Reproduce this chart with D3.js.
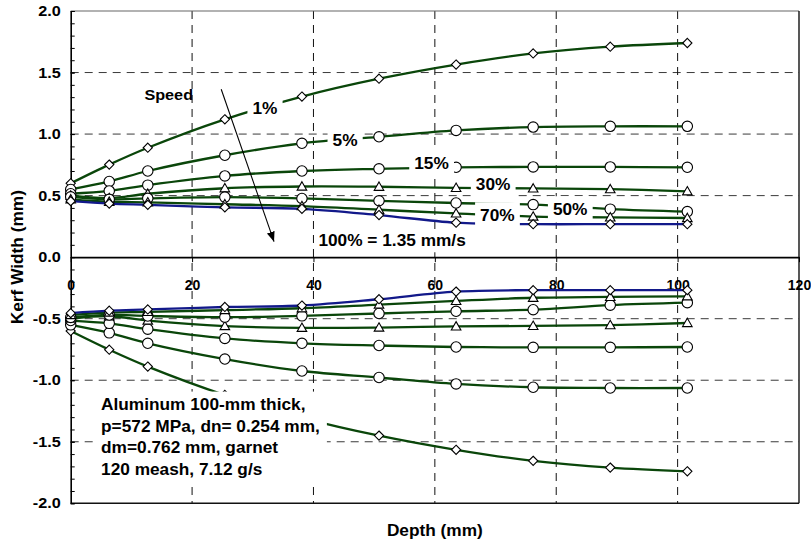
<!DOCTYPE html>
<html>
<head>
<meta charset="utf-8">
<script src="https://cdn.jsdelivr.net/npm/d3@7"></script>
<style>
  html, body { margin: 0; padding: 0; background: #fff; }
  svg { display: block; font-family: "Liberation Sans", Arial, Helvetica, sans-serif; font-weight: bold; }
</style>
</head>
<body>
<svg id="chart" width="811" height="544"></svg>
<script>
// Depth along the cut (mm) where kerf half-width was measured
const depth = [0, 6.35, 12.7, 25.4, 38.1, 50.8, 63.5, 76.2, 88.9, 101.6];

// Kerf half-width (mm) for each traverse speed (% of 1.35 mm/s)
const kerf1   = [0.600, 0.752, 0.889, 1.120, 1.305, 1.450, 1.565, 1.655, 1.710, 1.740];
const kerf5   = [0.550, 0.615, 0.700, 0.828, 0.925, 0.978, 1.030, 1.057, 1.063, 1.063];
const kerf15  = [0.515, 0.538, 0.585, 0.660, 0.700, 0.718, 0.730, 0.733, 0.733, 0.730];
const kerf30  = [0.500, 0.480, 0.515, 0.560, 0.574, 0.572, 0.563, 0.558, 0.552, 0.535];
const kerf50  = [0.490, 0.470, 0.478, 0.488, 0.477, 0.458, 0.440, 0.427, 0.390, 0.370];
const kerf70  = [0.470, 0.450, 0.445, 0.430, 0.415, 0.385, 0.355, 0.330, 0.323, 0.318];
const kerf100 = [0.455, 0.435, 0.425, 0.405, 0.393, 0.342, 0.280, 0.268, 0.268, 0.268];

const speedNames  = ["1%", "5%", "15%", "30%", "50%", "70%", "100%"];
const speedValues = [kerf1, kerf5, kerf15, kerf30, kerf50, kerf70, kerf100];

// Axis ticks
const xTicks = [0, 20, 40, 60, 80, 100, 120];
const yTicks = [-2.0, -1.5, -1.0, -0.5, 0.0, 0.5, 1.0, 1.5, 2.0];
const yMinorTicks = d3.range(-20, 21).map(i => i / 10);
const xGrid = [20, 40, 60, 80, 100];
const yGrid = [-1.5, -1.0, -0.5, 0.5, 1.0, 1.5];

// Text
const xTitle = "Depth (mm)";
const yTitle = "Kerf Width (mm)";
const curveLabels = ["1%", "5%", "15%", "30%", "70%", "50%"];
const speedTitle = "Speed";
const speedRef = "100% = 1.35 mm/s";
const noteLines = ["Aluminum 100-mm thick,", "p=572 MPa, dn= 0.254 mm,", "dm=0.762 mm, garnet", "120 meash, 7.12 g/s"];

// ---------- styling / layout ----------
const W = 811, H = 544;
const margin = { top: 11, right: 12, bottom: 40.7, left: 70.7 };
const GREEN = "#0a460a", BLUE = "#12198a";
const markerOf = { "1%": "diamond", "5%": "circle", "15%": "circle", "30%": "triangle",
                   "50%": "circle", "70%": "triangle", "100%": "diamond" };
const colorOf = name => name === "100%" ? BLUE : GREEN;
// label anchor points (depth, width) for in-plot annotations
const curveLabelAt = [[32.0, 1.212], [45.2, 0.952], [59.45, 0.765], [69.6, 0.595], [70.3, 0.343], [82.3, 0.392]];
const speedTitleAt = [16.15, 1.323];
const speedRefAt = [52.95, 0.134];
const arrowFrom = [24.8, 1.364], arrowTo = [33.5, 0.126];
const noteAt = [5.0, -1.242];
const TXT_K = 1.08;   // horizontal stretch of annotation text

const svg = d3.select("#chart");
const x = d3.scaleLinear().domain([0, 120]).range([margin.left, W - margin.right]);
const y = d3.scaleLinear().domain([-2, 2]).range([H - margin.bottom, margin.top]);

// Stretch an axis label horizontally about its own anchor
function stretchText(sel, k) {
  sel.each(function () {
    const tx = +this.getAttribute("x") || 0;
    d3.select(this).attr("transform", `translate(${tx},0) scale(${k},1) translate(${-tx},0)`);
  });
}

// ---------- gridlines ----------
const grid = svg.append("g");
grid.selectAll("line.h").data(yGrid).join("line")
  .attr("x1", x(0)).attr("x2", x(120))
  .attr("y1", d => y(d)).attr("y2", d => y(d))
  .attr("stroke", "#3a3a3a").attr("stroke-width", 1).attr("stroke-dasharray", "8,6");
grid.selectAll("line.v").data(xGrid).join("line")
  .attr("x1", d => x(d)).attr("x2", d => x(d))
  .attr("y1", y(2)).attr("y2", y(-2))
  .attr("stroke", "#111").attr("stroke-width", 1).attr("stroke-dasharray", "8,6");

// plot frame (top, right, bottom)
svg.append("line").attr("x1", x(0)).attr("x2", x(120)).attr("y1", y(2)).attr("y2", y(2))
  .attr("stroke", "#666").attr("stroke-width", 1.2);
svg.append("line").attr("x1", x(120)).attr("x2", x(120)).attr("y1", y(2)).attr("y2", y(-2))
  .attr("stroke", "#111").attr("stroke-width", 1.4);
svg.append("line").attr("x1", x(0)).attr("x2", x(120)).attr("y1", y(-2)).attr("y2", y(-2))
  .attr("stroke", "#111").attr("stroke-width", 1.4);

// ---------- axes ----------
const yMinor = svg.append("g").attr("transform", `translate(${x(0)},0)`)
  .call(d3.axisLeft(y).tickValues(yMinorTicks).tickSizeInner(-4).tickSizeOuter(0).tickFormat(""));
yMinor.select(".domain").attr("stroke", "#000").attr("stroke-width", 1.6);
yMinor.selectAll(".tick line").attr("stroke", "#000").attr("stroke-width", 1);

const yAxis = svg.append("g").attr("transform", `translate(${x(0)},0)`)
  .call(d3.axisLeft(y).tickValues(yTicks).tickSizeInner(-4).tickSizeOuter(0).tickPadding(10)
    .tickFormat(d => d.toFixed(1)));
yAxis.select(".domain").remove();
yAxis.selectAll(".tick line").attr("stroke", "#000");
yAxis.selectAll("text").attr("font-size", 14.5).attr("font-weight", "bold").attr("font-family", null)
  .attr("fill", "#000").call(stretchText, 1.12);

const xAxis = svg.append("g").attr("transform", `translate(0,${y(0)})`)
  .call(d3.axisBottom(x).tickValues(xTicks).tickSizeInner(5).tickSizeOuter(0).tickPadding(18));
xAxis.select(".domain").attr("stroke", "#000").attr("stroke-width", 1.6);
xAxis.selectAll(".tick line").attr("stroke", "#000");
xAxis.selectAll("text").attr("font-size", 14).attr("font-weight", "bold").attr("font-family", null)
  .attr("fill", "#000");

// axis titles
svg.append("g").attr("transform", `translate(${(x(0) + x(120)) / 2},536) scale(${TXT_K},1)`)
  .append("text").attr("text-anchor", "middle").attr("font-size", 16).text(xTitle);
svg.append("g").attr("transform", `translate(23,${(y(2) + y(-2)) / 2}) rotate(-90) scale(${TXT_K},1)`)
  .append("text").attr("text-anchor", "middle").attr("font-size", 16).text(yTitle);

// ---------- series (upper wall and mirrored lower wall) ----------
const line = d3.line().x(d => x(d[0])).y(d => y(d[1])).curve(d3.curveCatmullRom.alpha(0.5));
const order = [0, 1, 2, 3, 4, 5, 6];
const plot = svg.append("g");

[1, -1].forEach(sign => {
  order.forEach(i => {
    const name = speedNames[i];
    const pts = depth.map((dv, j) => [dv, sign * speedValues[i][j]]);
    plot.append("path").attr("d", line(pts))
      .attr("fill", "none").attr("stroke", colorOf(name)).attr("stroke-width", 2.3);
  });
});

function drawMarker(g, shape, px, py) {
  if (shape === "circle") {
    g.append("circle").attr("cx", px).attr("cy", py).attr("r", 5.2);
  } else if (shape === "diamond") {
    const h = 4.6;
    g.append("path").attr("d", `M${px},${py - h}L${px + h},${py}L${px},${py + h}L${px - h},${py}Z`);
  } else {
    const h = 4.8;
    g.append("path").attr("d", `M${px},${py - h}L${px + h},${py + h * 0.75}L${px - h},${py + h * 0.75}Z`);
  }
}
const marks = svg.append("g").attr("fill", "#fff").attr("stroke", "#000").attr("stroke-width", 1.1);
[1, -1].forEach(sign => {
  order.forEach(i => {
    const name = speedNames[i];
    depth.forEach((dv, j) => drawMarker(marks, markerOf[name], x(dv), y(sign * speedValues[i][j])));
  });
});

// ---------- annotations ----------
const defs = svg.append("defs");
defs.append("marker").attr("id", "arrowhead").attr("markerUnits", "userSpaceOnUse")
  .attr("markerWidth", 12).attr("markerHeight", 10).attr("refX", 10).attr("refY", 4)
  .attr("orient", "auto")
  .append("path").attr("d", "M0,0L10,4L0,8Z").attr("fill", "#000");

svg.append("line")
  .attr("x1", x(arrowFrom[0])).attr("y1", y(arrowFrom[1]))
  .attr("x2", x(arrowTo[0])).attr("y2", y(arrowTo[1]))
  .attr("stroke", "#000").attr("stroke-width", 1.1).attr("marker-end", "url(#arrowhead)");

function boxedLabel(text, at, size, padX, padY, withBox) {
  const g = svg.append("g").attr("transform", `translate(${x(at[0])},${y(at[1])}) scale(${TXT_K},1)`);
  const rect = g.append("rect").attr("fill", "#fff");
  const t = g.append("text").attr("text-anchor", "middle").attr("dy", "0.36em")
    .attr("font-size", size).attr("fill", "#000").text(text);
  const bb = t.node().getBBox();
  if (withBox) {
    rect.attr("x", bb.x - padX / TXT_K).attr("y", bb.y - padY)
      .attr("width", bb.width + 2 * padX / TXT_K).attr("height", bb.height + 2 * padY);
  } else rect.remove();
}

curveLabels.forEach((lbl, i) => boxedLabel(lbl, curveLabelAt[i], 16, 5, 4, true));
boxedLabel(speedTitle, speedTitleAt, 15, 0, 0, false);
boxedLabel(speedRef, speedRefAt, 16, 3, 2, true);

// test-condition note in the lower half
const note = svg.append("g");
const noteBox = note.append("rect").attr("fill", "#fff");
const noteText = note.append("g").attr("transform", `translate(${x(noteAt[0])},${y(noteAt[1])}) scale(${TXT_K},1)`);
noteLines.forEach((s, i) => {
  noteText.append("text").attr("x", 0).attr("y", i * 21.7).attr("font-size", 16).attr("fill", "#000").text(s);
});
const nb = noteText.node().getBBox();
const nx0 = x(noteAt[0]) + nb.x * TXT_K, ny0 = y(noteAt[1]) + nb.y;
noteBox.attr("x", nx0 - 5).attr("y", ny0 - 4)
  .attr("width", nb.width * TXT_K + 12).attr("height", nb.height + 8);
</script>
</body>
</html>
